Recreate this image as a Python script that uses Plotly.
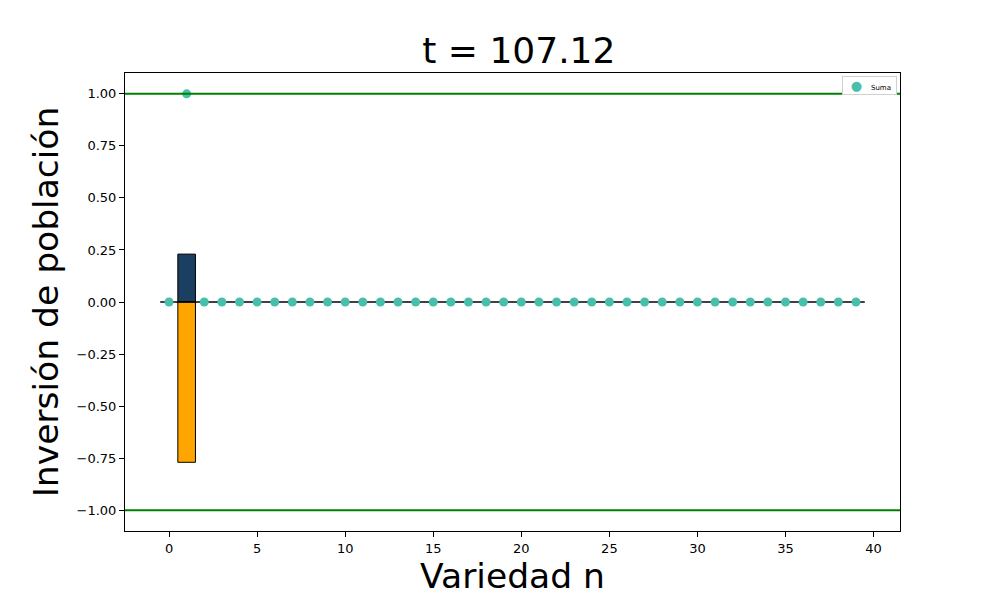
import plotly.graph_objects as go

n_values = list(range(40))
suma_values = [0, 1] + [0] * 38
bar_n = [1]
bar_pos = [0.23]
bar_neg = [-0.77]
baseline_x = [-0.5, 39.5]
baseline_y = [0, 0]
limit_levels = [1, -1]
x_ticks = [0, 5, 10, 15, 20, 25, 30, 35, 40]
y_ticks = [1.0, 0.75, 0.5, 0.25, 0.0, -0.25, -0.5, -0.75, -1.0]
legend_label = "Suma"
dot_color = "#48bfaa"

fig = go.Figure()

fig.add_trace(go.Scatter(x=baseline_x, y=baseline_y, mode="lines",
                         line=dict(color="black", width=1.5), showlegend=False, hoverinfo="skip"))
fig.add_trace(go.Bar(x=bar_n, y=bar_pos, width=1, marker=dict(color="#1b3f60", line=dict(color="black", width=1)),
                     showlegend=False))
fig.add_trace(go.Bar(x=bar_n, y=bar_neg, width=1, marker=dict(color="#ffa500", line=dict(color="black", width=1)),
                     showlegend=False))
fig.add_trace(go.Scatter(x=n_values, y=suma_values, mode="markers", name=legend_label,
                         marker=dict(color=dot_color, size=9), showlegend=False))

for lv in limit_levels:
    fig.add_hline(y=lv, line=dict(color="green", width=2))

# compact legend box (matplotlib-like)
fig.add_annotation(
    xref="paper", yref="paper", x=0.996, y=0.994, xanchor="right", yanchor="top",
    text=f"&nbsp;&nbsp;&nbsp;<span style='color:{dot_color};font-size:13px'>●</span>&nbsp;&nbsp;&nbsp;&nbsp;{legend_label}&nbsp;&nbsp;",
    showarrow=False, font=dict(size=7, family="DejaVu Sans", color="black"),
    bgcolor="white", bordercolor="#d0d0d0", borderwidth=1, borderpad=1,
)

fig.update_layout(
    width=992, height=592,
    barmode="relative",
    plot_bgcolor="white", paper_bgcolor="white",
    font=dict(family="DejaVu Sans", color="black"),
    margin=dict(l=117, r=100, t=65, b=63),
    showlegend=False,
    title=dict(text="t = 107.12", x=0.515, xanchor="center", y=0.929, yanchor="middle",
               font=dict(size=36, family="DejaVu Sans")),
    xaxis=dict(range=[-2.5, 41.5], tickvals=x_ticks, showgrid=False, zeroline=False,
               showline=True, linecolor="black", linewidth=1, mirror=True,
               ticks="outside", ticklen=5, tickcolor="black", tickfont=dict(size=13),
               title=dict(text="Variedad n", font=dict(size=34.5), standoff=8)),
    yaxis=dict(range=[-1.1, 1.1], tickvals=y_ticks, tickformat=".2f", showgrid=False, zeroline=False,
               showline=True, linecolor="black", linewidth=1, mirror=True,
               ticks="outside", ticklen=5, tickcolor="black", tickfont=dict(size=13),
               title=dict(text="Inversión de población", font=dict(size=34.5), standoff=7)),
)

fig.write_html("out.html")
